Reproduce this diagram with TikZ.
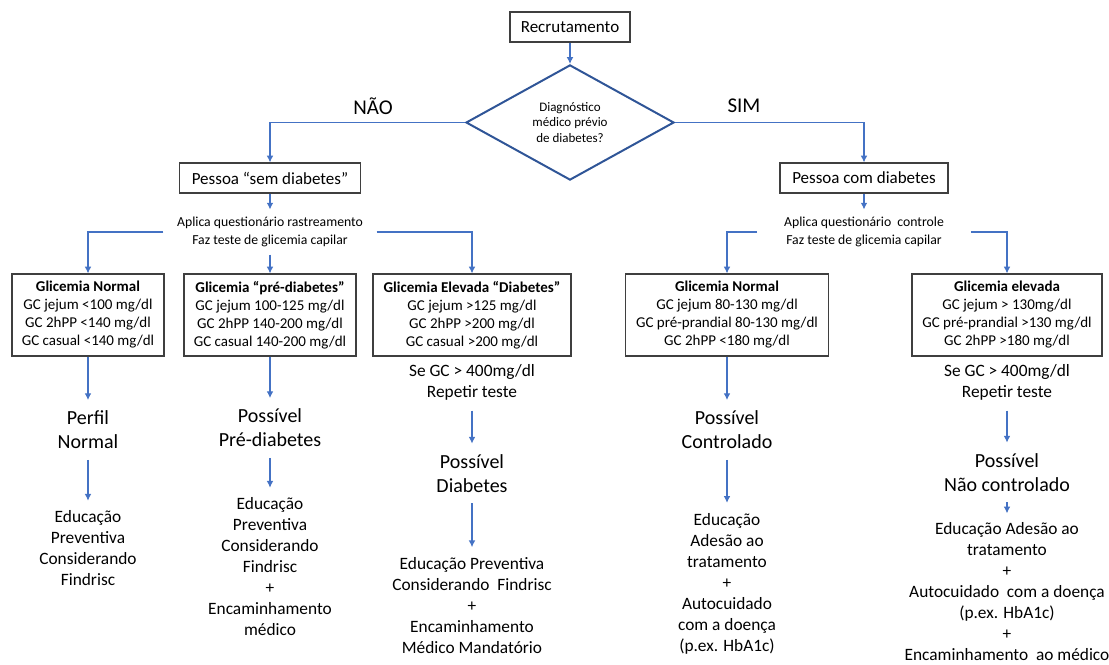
\documentclass[tikz,border=0pt]{standalone}
\usepackage{fontspec}
\setmainfont{Carlito}
\usetikzlibrary{shapes.geometric,arrows.meta}
\definecolor{arrblue}{HTML}{4472C4}
\definecolor{diablue}{HTML}{2F5597}
\definecolor{boxgray}{HTML}{3F3F3F}
\tikzset{
  topbox/.style={draw=boxgray, line width=0.9pt, minimum height=22.5pt, inner sep=0pt, font=\fontsize{12.75}{15}\selectfont},
  gbox/.style={draw=boxgray, line width=0.9pt, minimum height=61.5pt, inner sep=0pt, align=center, font=\fontsize{11.25}{13.5}\selectfont},
  quest/.style={align=center, inner ysep=5.5pt, font=\fontsize{10.3}{13.5}\selectfont},
  answer/.style={font=\fontsize{15.75}{18}\selectfont},
  bigtxt/.style={align=center, inner xsep=0pt, inner ysep=8pt, font=\fontsize{15}{18}\selectfont},
  smalltxt/.style={align=center, inner xsep=0pt, inner ysep=7.5pt, font=\fontsize{13}{15.75}\selectfont},
  arr/.style={draw=arrblue, line width=0.8pt, -{Latex[length=5pt,width=5pt]}}
}
\begin{document}
\begin{tikzpicture}[x=0.75pt,y=-0.75pt]
      \useasboundingbox (0,0) rectangle (1109,664);
      \node[topbox, minimum width=90pt] (rec) at (570,27) {Recrutamento};
      \node[diamond, draw=diablue, line width=1.5pt, minimum width=156pt, minimum height=75.75pt,
        inner sep=0pt, align=center, font=\fontsize{9.75}{11.6}\selectfont] (dia) at (570,122.5)
        {Diagnóstico\\médico prévio\\de diabetes?};
      \node[answer] (nao) at (373,106) {NÃO};
      \node[answer] (sim) at (744,106) {SIM};
      \node[topbox, minimum width=135.75pt] (sem) at (270,178) {Pessoa “sem diabetes”};
      \node[topbox, minimum width=126pt] (com) at (864,178) {Pessoa com diabetes};
      \node[quest, inner xsep=10pt] (q1) at (270,232) {Aplica questionário rastreamento\\Faz teste de glicemia capilar};
      \node[quest, inner xsep=20pt] (q2) at (864,232) {Aplica questionário\ \ controle\\Faz teste de glicemia capilar};
      \node[gbox, minimum width=114pt] (b1) at (88,315)
        {\textbf{Glicemia Normal}\\GC jejum <100 mg/dl\\GC 2hPP <140 mg/dl\\GC casual <140 mg/dl};
      \node[gbox, minimum width=129pt] (b2) at (270,315)
        {\textbf{Glicemia “pré-diabetes”}\\GC jejum 100-125 mg/dl\\GC 2hPP 140-200 mg/dl\\GC casual 140-200 mg/dl};
      \node[gbox, minimum width=148.5pt] (b3) at (472,315)
        {\textbf{Glicemia Elevada “Diabetes”}\\GC jejum >125 mg/dl\\GC 2hPP >200 mg/dl\\GC casual >200 mg/dl};
      \node[gbox, minimum width=152.25pt] (b4) at (727,315)
        {\textbf{Glicemia Normal}\\GC jejum 80-130 mg/dl\\GC pré-prandial 80-130 mg/dl\\GC 2hPP <180 mg/dl};
      \node[gbox, minimum width=142.5pt] (b5) at (1007,315)
        {\textbf{Glicemia elevada}\\GC jejum > 130mg/dl\\GC pré-prandial >130 mg/dl\\GC 2hPP >180 mg/dl};
      \node[bigtxt] (p1) at (88,430) {Perfil\\Normal};
      \node[smalltxt] (e1) at (88,548.5) {Educação\\Preventiva\\Considerando\\Findrisc};
      \node[bigtxt] (p2) at (270,428) {Possível\\Pré-diabetes};
      \node[smalltxt] (e2) at (270,567)
        {Educação\\Preventiva\\Considerando\\Findrisc\\+\\Encaminhamento\\médico};
      \node[smalltxt] (r3) at (472,382.5) {Se GC > 400mg/dl\\Repetir teste};
      \node[bigtxt] (p3) at (472,473.5) {Possível\\Diabetes};
      \node[smalltxt] (e3) at (472,605.5)
        {Educação Preventiva\\Considerando\ \ Findrisc\\+\\Encaminhamento\\Médico Mandatório};
      \node[bigtxt] (p4) at (727,430) {Possível\\Controlado};
      \node[smalltxt] (e4) at (727,583.5)
        {Educação\\Adesão ao\\tratamento\\+\\Autocuidado\\com a doença\\(p.ex. HbA1c)};
      \node[smalltxt] (r5) at (1007,382.5) {Se GC > 400mg/dl\\Repetir teste};
      \node[bigtxt] (p5) at (1007,472.5) {Possível\\Não controlado};
      \node[smalltxt, inner ysep=1pt] (e5) at (1007,592)
        {Educação Adesão ao\\tratamento\\+\\Autocuidado\ \ com a doença\\(p.ex. HbA1c)\\+\\Encaminhamento\ \ ao médico};
      \begin{scope}[arr]
        \draw (rec) to (dia);
        \draw (dia.west) -| (sem);
        \draw (dia.east) -| (com);
        \draw (sem) to (q1);
        \draw (com) to (q2);
        \draw (q1.west) -| (b1);
        \draw (q1) to (b2);
        \draw (q1.east) -| (b3);
        \draw (q2.west) -| (b4);
        \draw (q2.east) -| (b5);
        \draw (b1) to (p1);
        \draw (p1) to (e1);
        \draw (b2) to (p2);
        \draw (p2) to (e2);
        \draw (r3) to (p3);
        \draw (p3) to (e3);
        \draw (b4) to (p4);
        \draw (p4) to (e4);
        \draw (r5) to (p5);
        \draw[shorten >=6pt] (p5) to (e5);
      \end{scope}
    \end{tikzpicture}
\end{document}
